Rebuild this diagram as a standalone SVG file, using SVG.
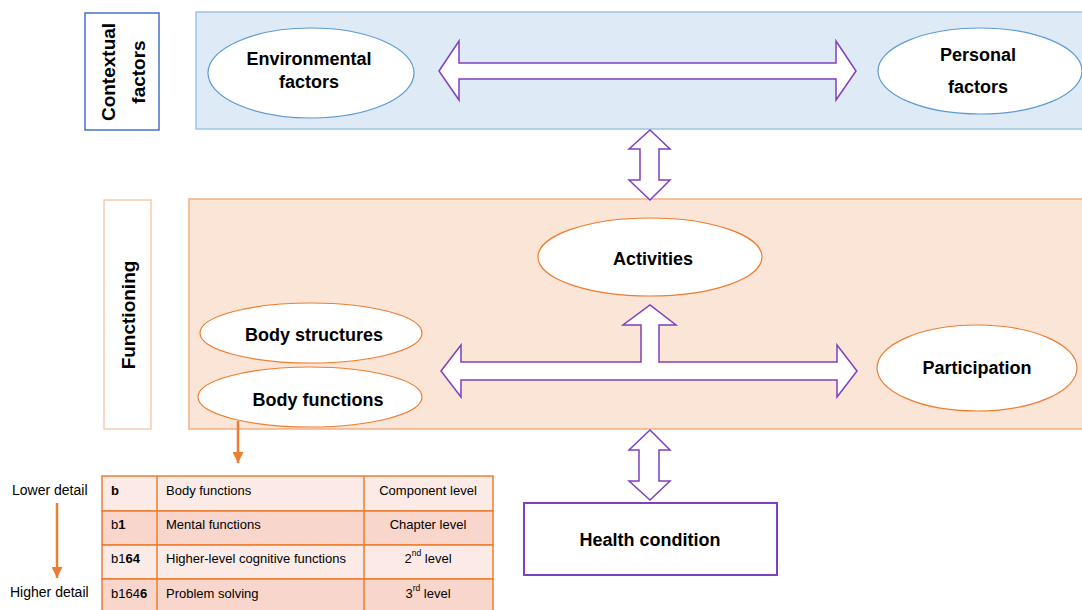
<svg xmlns="http://www.w3.org/2000/svg" width="1082" height="610" viewBox="0 0 1082 610">
  <style>
    text { font-family: "Liberation Sans", Arial, sans-serif; fill: #000; }
    .lbl { font-size: 18px; font-weight: bold; text-anchor: middle; dominant-baseline: central; }
    .side { font-size: 19px; font-weight: bold; text-anchor: middle; dominant-baseline: central; }
    .ctx { fill: #DEEAF6; stroke: #9DC3E6; stroke-width: 1.5; }
    .fun { fill: #FBE5D6; stroke: #F4B183; stroke-width: 1.5; }
    .eb { fill: #fff; stroke: #5B9BD5; stroke-width: 1.2; }
    .eo { fill: #fff; stroke: #ED7D31; stroke-width: 1.2; }
    .arr { fill: #fff; stroke: #7F3FBF; stroke-width: 1.5; stroke-linejoin: miter; }
    .tc { font-size: 13px; dominant-baseline: central; }
    .tr1 { fill: #FBEAE5; stroke: #ED7D31; stroke-width: 1.5; }
    .tr2 { fill: #F8D6CB; stroke: #ED7D31; stroke-width: 1.5; }
    .oline { stroke: #ED7D31; stroke-width: 2.5; fill: none; }
  </style>
  <defs>
    <marker id="ohead" viewBox="0 0 10 10" refX="10" refY="5" markerWidth="4.4" markerHeight="4.4" orient="auto" markerUnits="strokeWidth">
      <path d="M0,0 L10,5 L0,10 Z" fill="#ED7D31"/>
    </marker>
  </defs>

  <!-- background bands -->
  <rect class="ctx" x="196" y="12" width="900" height="117"/>
  <rect class="fun" x="189" y="199" width="900" height="230"/>

  <!-- side labels -->
  <g id="contextual-factors">
    <rect x="85" y="13" width="74" height="117" fill="#fff" stroke="#4472C4" stroke-width="1.5"/>
    <text class="side" transform="translate(108,72) rotate(-90)">Contextual</text>
    <text class="side" transform="translate(138,72) rotate(-90)">factors</text>
  </g>
  <g id="functioning">
    <rect x="104" y="200" width="47" height="229" fill="#fff" stroke="#F8CBAD" stroke-width="1.5"/>
    <text class="side" transform="translate(128,315) rotate(-90)">Functioning</text>
  </g>

  <!-- connectors -->
  <g id="connectors">
    <!-- environmental <-> personal -->
    <path class="arr" d="M439,71 L459,41 L459,63 L836,63 L836,41 L856,71 L836,100 L836,79 L459,79 L459,100 Z"/>
    <!-- contextual <-> functioning -->
    <path class="arr" d="M650,130 L670,149 L659,149 L659,180 L670,180 L650,200 L629,180 L640,180 L640,149 L629,149 Z"/>
    <!-- body <-> activities <-> participation -->
    <path class="arr" d="M441,371 L461,345 L461,362 L641,362 L641,325 L623,325 L650,305 L676,325 L659,325 L659,362 L837,362 L837,345 L857,371 L837,397 L837,380 L461,380 L461,397 Z"/>
    <!-- functioning <-> health condition -->
    <path class="arr" d="M650,430 L670,450 L659,450 L659,481 L670,481 L650,500 L629,481 L639,481 L639,450 L629,450 Z"/>
    <!-- body functions -> classification table -->
    <line class="oline" x1="238" y1="421" x2="238" y2="463" marker-end="url(#ohead)"/>
    <!-- detail scale -->
    <line class="oline" x1="57" y1="503" x2="57" y2="578" marker-end="url(#ohead)"/>
  </g>

  <!-- nodes -->
  <g id="environmental-factors">
    <ellipse class="eb" cx="311" cy="73" rx="103" ry="45"/>
    <text class="lbl" x="309" y="59">Environmental</text>
    <text class="lbl" x="309" y="82">factors</text>
  </g>
  <g id="personal-factors">
    <ellipse class="eb" cx="980" cy="71" rx="102" ry="43"/>
    <text class="lbl" x="978" y="55">Personal</text>
    <text class="lbl" x="978" y="87">factors</text>
  </g>
  <g id="activities">
    <ellipse class="eo" cx="650" cy="257" rx="112" ry="39"/>
    <text class="lbl" x="653" y="259">Activities</text>
  </g>
  <g id="body-structures">
    <ellipse class="eo" cx="311" cy="333" rx="111" ry="30"/>
    <text class="lbl" x="314" y="335">Body structures</text>
  </g>
  <g id="body-functions">
    <ellipse class="eo" cx="310" cy="397" rx="112" ry="30"/>
    <text class="lbl" x="318" y="400">Body functions</text>
  </g>
  <g id="participation">
    <ellipse class="eo" cx="977" cy="368" rx="100" ry="43"/>
    <text class="lbl" x="977" y="368">Participation</text>
  </g>
  <g id="health-condition">
    <rect x="524" y="503" width="253" height="72" fill="#fff" stroke="#7F3FBF" stroke-width="2"/>
    <text class="lbl" x="650" y="540">Health condition</text>
  </g>

  <!-- classification levels -->
  <g id="detail-scale">
    <text x="12" y="495" font-size="14">Lower detail</text>
    <text x="10" y="597" font-size="14">Higher detail</text>
  </g>
  <g id="classification-table">
    <rect class="tr1" x="102" y="476" width="391" height="35"/>
    <rect class="tr2" x="102" y="511" width="391" height="34"/>
    <rect class="tr1" x="102" y="545" width="391" height="34"/>
    <rect class="tr2" x="102" y="579" width="391" height="40"/>
    <line x1="157" y1="476" x2="157" y2="612" stroke="#ED7D31" stroke-width="1.5"/>
    <line x1="364" y1="476" x2="364" y2="612" stroke="#ED7D31" stroke-width="1.5"/>

    <text class="tc" x="111" y="490"><tspan font-weight="bold">b</tspan></text>
    <text class="tc" x="166" y="490">Body functions</text>
    <text class="tc" x="428" y="490" text-anchor="middle">Component level</text>

    <text class="tc" x="111" y="524">b<tspan font-weight="bold">1</tspan></text>
    <text class="tc" x="166" y="524">Mental functions</text>
    <text class="tc" x="428" y="524" text-anchor="middle">Chapter level</text>

    <text class="tc" x="111" y="558">b1<tspan font-weight="bold">64</tspan></text>
    <text class="tc" x="166" y="558">Higher-level cognitive functions</text>
    <text class="tc" x="428" y="558" text-anchor="middle">2<tspan font-size="8.5" dy="-5">nd</tspan><tspan dy="5"> level</tspan></text>

    <text class="tc" x="111" y="593">b164<tspan font-weight="bold">6</tspan></text>
    <text class="tc" x="166" y="593">Problem solving</text>
    <text class="tc" x="428" y="593" text-anchor="middle">3<tspan font-size="8.5" dy="-5">rd</tspan><tspan dy="5"> level</tspan></text>
  </g>
</svg>
